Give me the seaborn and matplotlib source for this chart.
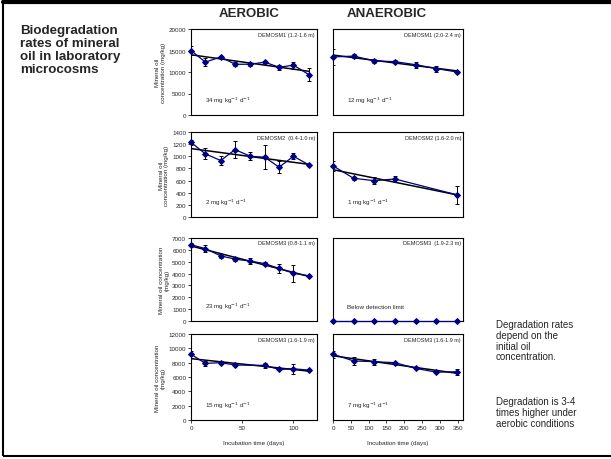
import numpy as np
import pandas as pd
import seaborn as sns
import matplotlib.pyplot as plt
from matplotlib.lines import Line2D
from matplotlib.patches import Rectangle

sns.set_theme(style="ticks")
plt.rcParams['font.family'] = ['Liberation Sans', 'DejaVu Sans']

# ---- data ----
aer_days = [0, 14, 29, 43, 58, 72, 86, 100, 115]
aer4_days = [0, 14, 29, 43, 72, 86, 100, 115]
ana_days = [0, 58, 116, 174, 232, 290, 348]
ana2_days = [0, 58, 116, 174, 348]

# DEMOSM1
aer1 = [15000, 12300, 13500, 11800, 11800, 12300, 11100, 11600, 9400]
aer1_err = [1000, 1000, 300, 500, 300, 300, 600, 800, 1600]
ana1 = [13500, 13700, 12600, 12400, 11700, 10800, 10000]
ana1_err = [1800, 400, 500, 400, 700, 700, 300]

# DEMOSM2
aer2 = [1230, 1040, 930, 1110, 1000, 985, 820, 1000, 860]
aer2_err = [40, 90, 70, 140, 65, 200, 100, 50, 0]
ana2 = [843, 637, 598, 626, 365]
ana2_err = [80, 20, 60, 50, 150]

# DEMOSM3 (0.8-1.1 m / 1.9-2.3 m)
aer3 = [6430, 6110, 5490, 5220, 5050, 4840, 4430, 4030, 3810]
aer3_err = [150, 300, 150, 200, 250, 100, 350, 700, 0]
ana3 = [0, 0, 0, 0, 0, 0, 0]

# DEMOSM3 (1.6-1.9 m)
aer4 = [9180, 7900, 8000, 7670, 7620, 7060, 7150, 6960]
aer4_err = [500, 350, 200, 100, 300, 100, 700, 100]
ana4 = [9180, 8240, 8140, 8000, 7200, 6680, 6730]
ana4_err = [500, 600, 400, 100, 100, 100, 400]

panel_labels = [("DEMOSM1 (1.2-1.6 m)", "DEMOSM1 (2.0-2.4 m)"),
                ("DEMOSM2  (0.4-1.0 m)", "DEMOSM2 (1.6-2.0 m)"),
                ("DEMOSM3 (0.8-1.1 m)", "DEMOSM3  (1.9-2.3 m)"),
                ("DEMOSM3 (1.6-1.9 m)", "DEMOSM3 (1.6-1.9 m)")]
rate_labels = [("34 mg kg$^{-1}$ d$^{-1}$", "12 mg kg$^{-1}$ d$^{-1}$"),
               ("2 mg kg$^{-1}$ d$^{-1}$", "1 mg kg$^{-1}$ d$^{-1}$"),
               ("23 mg kg$^{-1}$ d$^{-1}$", "Below detection limit"),
               ("15 mg kg$^{-1}$ d$^{-1}$", "7 mg kg$^{-1}$ d$^{-1}$")]
ylabels = ["Mineral oil\nconcentration (mg/kg)",
           "Mineral oil\nconcentration (mg/kg)",
           "Mineral oil concentration\n(mg/kg)",
           "Mineral oil concentration\n(mg/kg)"]
ymax = [20000, 1400, 7000, 12000]
ystep = [5000, 200, 1000, 2000]

W, H = 611, 460
fig = plt.figure(figsize=(W / 100, H / 100), dpi=100)


def px_axes(l, t, r, b):
    return fig.add_axes([l / W, 1 - b / H, (r - l) / W, (b - t) / H])


rows_px = [(30, 116), (133, 218), (239, 322), (335, 421)]
aer_data = [(aer_days, aer1, aer1_err), (aer_days, aer2, aer2_err),
            (aer_days, aer3, aer3_err), (aer4_days, aer4, aer4_err)]
ana_data = [(ana_days, ana1, ana1_err), (ana2_days, ana2, ana2_err),
            (ana_days, ana3, None), (ana_days, ana4, ana4_err)]

blue = '#000080'

for i, (top, bot) in enumerate(rows_px):
    for j, (l, r, data, xmax) in enumerate([(191, 317, aer_data[i], 123),
                                             (333, 463, ana_data[i], 365)]):
        ax = px_axes(l, top, r, bot)
        days, vals, err = data
        df = pd.DataFrame({'day': days, 'conc': vals})
        if err is not None:
            ax.errorbar(days, vals, yerr=err, fmt='none', ecolor='black',
                        elinewidth=0.7, capsize=1.5, capthick=0.7, zorder=3)
            # linear trend line through the measurements
            sns.regplot(data=df, x='day', y='conc', ax=ax, scatter=False,
                        ci=None, color='black', line_kws=dict(lw=1.1, zorder=2))
        sns.lineplot(data=df, x='day', y='conc', ax=ax, color=blue,
                     marker='D', markersize=3, markeredgecolor=blue,
                     lw=0.9, estimator=None, zorder=4, clip_on=False)
        ax.set_xlim(0, xmax)
        ax.set_ylim(0, ymax[i])
        for s in ax.spines.values():
            s.set_visible(True)
            s.set_linewidth(0.8)
            s.set_color('black')
        ax.set_xlabel('')
        ax.set_ylabel('')
        ax.tick_params(length=2, width=0.6, labelsize=4.5, pad=1.5)
        if j == 0:
            ax.set_yticks(np.arange(0, ymax[i] + 1, ystep[i]))
            ax.set_ylabel(ylabels[i], fontsize=4.5, labelpad=2)
        else:
            ax.set_yticks([])
        if i == 3:
            ax.set_xticks([0, 50, 100] if j == 0 else np.arange(0, 351, 50))
            ax.set_xlabel('Incubation time (days)', fontsize=4.5, labelpad=7)
        else:
            ax.set_xticks([])
        ax.text(0.985, 0.94, panel_labels[i][j], transform=ax.transAxes,
                ha='right', va='center', fontsize=4)
        ax.text(0.11, 0.18, rate_labels[i][j], transform=ax.transAxes,
                ha='left', va='center', fontsize=4.5)

# headers and slide text
fig.text(249 / W, 1 - 14 / H, 'AEROBIC', ha='center', va='center',
         fontsize=9.5, fontweight='bold')
fig.text(387 / W, 1 - 14 / H, 'ANAEROBIC', ha='center', va='center',
         fontsize=9.5, fontweight='bold')
fig.text(20 / W, 1 - 25 / H,
         'Biodegradation\nrates of mineral\noil in laboratory\nmicrocosms',
         ha='left', va='top', fontsize=9.6, fontweight='bold',
         linespacing=1.1, multialignment='left')
fig.text(496 / W, 1 - 320 / H,
         'Degradation rates\ndepend on the\ninitial oil\nconcentration.',
         ha='left', va='top', fontsize=7, linespacing=1.1)
fig.text(496 / W, 1 - 397 / H,
         'Degradation is 3-4\ntimes higher under\naerobic conditions',
         ha='left', va='top', fontsize=7, linespacing=1.1)

# slide border
fig.add_artist(Rectangle((3 / W, 3 / H), 1, 1 - 6 / H, transform=fig.transFigure,
                         fill=False, lw=1.5, edgecolor='black'))
fig.add_artist(Line2D([3 / W, 1], [1 - 3 / H, 1 - 3 / H], transform=fig.transFigure,
                      lw=3, color='black'))

fig.savefig('out.png', dpi=100, facecolor='white')
